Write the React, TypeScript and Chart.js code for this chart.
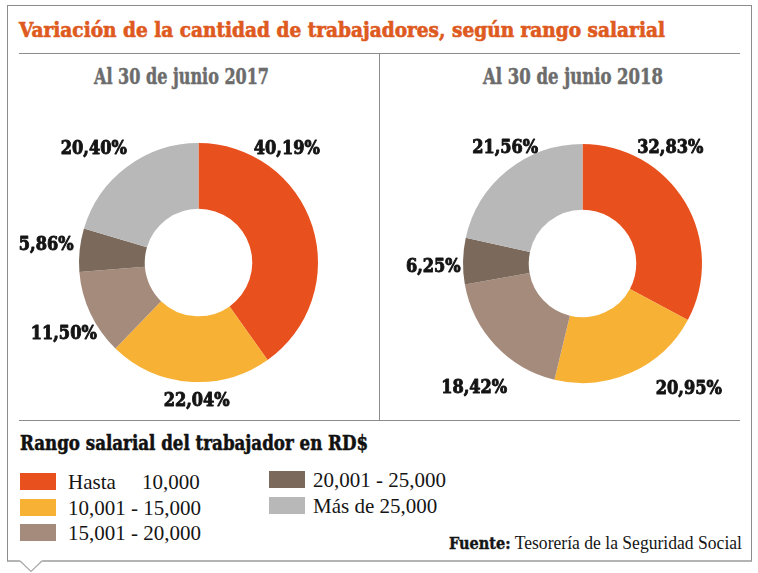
import React, { useEffect, useLayoutEffect, useRef } from "react";
import { Chart, registerables } from "chart.js";

Chart.register(...registerables);

// ---------- data ----------
const categories = [
  "Hasta 10,000",
  "10,001 - 15,000",
  "15,001 - 20,000",
  "20,001 - 25,000",
  "Más de 25,000",
];
const sliceColors = ["#E8511E", "#F7B134", "#A58B7C", "#7B6A5B", "#B9B8B9"];
const values2017 = [40.19, 22.04, 11.5, 5.86, 20.4];
const values2018 = [32.83, 20.95, 18.42, 6.25, 21.56];
const panelTitles = ["Al 30 de junio 2017", "Al 30 de junio 2018"];
const chartTitle = "Variación de la cantidad de trabajadores, según rango salarial";
const legendTitle = "Rango salarial del trabajador en RD$";
const sourceLabel = "Fuente:";
const sourceText = "Tesorería de la Seguridad Social";

const fmt = (v: number) => v.toFixed(2).replace(".", ",") + "%";

const SERIF = "'Liberation Serif', 'Times New Roman', serif";
const HEAVY = "'DejaVu Serif Condensed', 'DejaVu Serif', serif";

type Place = { angle: number; dist: number };

function makeLabelPlugin(places: Place[]) {
  return {
    id: "outerLabels",
    afterDatasetsDraw(chart: any) {
      const meta = chart.getDatasetMeta(0);
      const ctx = chart.ctx;
      ctx.save();
      ctx.font = `bold 19px ${HEAVY}`;
      try {
        (ctx as any).fontStretch = "condensed";
      } catch (e) {}
      ctx.fillStyle = "#141414";
      ctx.strokeStyle = "#141414";
      ctx.lineWidth = 0.9;
      ctx.lineJoin = "round";
      ctx.textAlign = "center";
      ctx.textBaseline = "alphabetic";
      const sx = 66 / ctx.measureText("40,19%").width;
      meta.data.forEach((arc: any, i: number) => {
        const p = arc.getProps(["x", "y", "outerRadius", "startAngle", "endAngle"], true);
        const place = places[i];
        const ang = place ? (place.angle * Math.PI) / 180 : (p.startAngle + p.endAngle) / 2;
        const dist = p.outerRadius * (place ? place.dist : 1.25);
        const v = chart.data.datasets[0].data[i];
        ctx.save();
        ctx.translate(p.x + Math.cos(ang) * dist, p.y + Math.sin(ang) * dist + 7);
        ctx.scale(sx, 1);
        ctx.fillText(fmt(v), 0, 0);
        ctx.strokeText(fmt(v), 0, 0);
        ctx.restore();
      });
      ctx.restore();
    },
  };
}

type DonutProps = {
  values: number[];
  left: number;
  top: number;
  width: number;
  height: number;
  padding: { left: number; top: number; right: number; bottom: number };
  places: Place[];
};

function Donut({ values, left, top, width, height, padding, places }: DonutProps) {
  const ref = useRef<HTMLCanvasElement | null>(null);
  useEffect(() => {
    if (!ref.current) return;
    const chart = new Chart(ref.current, {
      type: "doughnut",
      data: {
        labels: categories,
        datasets: [
          {
            data: values,
            backgroundColor: sliceColors,
            borderWidth: 0,
            hoverOffset: 0,
          },
        ],
      },
      options: {
        responsive: false,
        animation: false,
        devicePixelRatio: 1,
        cutout: "45%",
        layout: { padding },
        plugins: {
          legend: { display: false },
          tooltip: { enabled: false },
          title: { display: false },
        },
        events: [],
      },
      plugins: [makeLabelPlugin(places)],
    });
    return () => chart.destroy();
  }, []);
  return (
    <canvas
      ref={ref}
      width={width}
      height={height}
      style={{ position: "absolute", left, top, width, height }}
    />
  );
}

// text stretched horizontally to a target width
function FitText({
  left,
  top,
  width,
  style,
  children,
}: {
  left: number;
  top: number;
  width: number;
  style: React.CSSProperties;
  children: React.ReactNode;
}) {
  const ref = useRef<HTMLDivElement | null>(null);
  useLayoutEffect(() => {
    const fit = () => {
      const el = ref.current;
      if (!el) return;
      el.style.transform = "none";
      const w = el.getBoundingClientRect().width;
      if (w > 0) el.style.transform = `scaleX(${width / w})`;
    };
    fit();
    if ((document as any).fonts && (document as any).fonts.ready) {
      (document as any).fonts.ready.then(fit);
    }
  });
  return (
    <div
      ref={ref}
      style={{
        position: "absolute",
        left,
        top,
        whiteSpace: "pre",
        lineHeight: 1,
        transformOrigin: "left top",
        ...style,
      }}
    >
      {children}
    </div>
  );
}

const places2017: Place[] = [
  { angle: -52.6, dist: 1.216 },
  { angle: 90.75, dist: 1.146 },
  { angle: 152.7, dist: 1.269 },
  { angle: 187.3, dist: 1.285 },
  { angle: -132.2, dist: 1.304 },
];
const places2018: Place[] = [
  { angle: -53.3, dist: 1.229 },
  { angle: 49.2, dist: 1.361 },
  { angle: 131.4, dist: 1.37 },
  { angle: 179.3, dist: 1.249 },
  { angle: -123.3, dist: 1.179 },
];

export default function App() {
  const lineColor = "#8c8c8c";
  const legendCols = [
    { box: 20, text: 68, top: 473, items: [0, 1, 2] },
    { box: 269, text: 313, top: 471, items: [3, 4] },
  ];
  const heavy: React.CSSProperties = {
    fontFamily: HEAVY,
    fontWeight: "bold",
    fontStretch: "condensed",
  };
  return (
    <div
      style={{
        position: "absolute",
        left: 0,
        top: 0,
        width: 758,
        height: 573,
        background: "#ffffff",
        fontFamily: SERIF,
        overflow: "hidden",
      }}
    >
      {/* frame */}
      <div
        style={{
          position: "absolute",
          left: 7,
          top: 5,
          width: 745,
          height: 557,
          boxSizing: "border-box",
          borderLeft: `1px solid ${lineColor}`,
          borderTop: `1px solid ${lineColor}`,
          borderRight: `1px solid ${lineColor}`,
          borderBottom: "2px solid #b4b4b4",
        }}
      />
      <svg
        style={{ position: "absolute", left: 0, top: 555 }}
        width={60}
        height={18}
        viewBox="0 555 60 18"
      >
        <polygon points="19.5,559 31,571.5 42.5,559" fill="#ffffff" />
        <rect x={19.5} y={559} width={23} height={2.5} fill="#ffffff" />
        <polyline points="19.5,560.5 31,571.5 42.5,560.5" fill="none" stroke="#a8a8a8" strokeWidth={1.2} />
      </svg>

      {/* title */}
      <FitText
        left={19}
        top={20}
        width={646}
        style={{ ...heavy, fontSize: 20.5, color: "#DE5A20", WebkitTextStroke: "0.6px #DE5A20" }}
      >
        {chartTitle}
      </FitText>

      {/* separators */}
      <div style={{ position: "absolute", left: 19, top: 53, width: 721, height: 1, background: lineColor }} />
      <div style={{ position: "absolute", left: 379, top: 53, width: 1, height: 368, background: lineColor }} />
      <div style={{ position: "absolute", left: 19, top: 420, width: 721, height: 1, background: lineColor }} />

      {/* panel titles */}
      <FitText
        left={94}
        top={64.5}
        width={175}
        style={{ ...heavy, fontSize: 22, color: "#6c6c6c", WebkitTextStroke: "0.5px #6c6c6c" }}
      >
        {panelTitles[0]}
      </FitText>
      <FitText
        left={483}
        top={64.5}
        width={180}
        style={{ ...heavy, fontSize: 22, color: "#6c6c6c", WebkitTextStroke: "0.5px #6c6c6c" }}
      >
        {panelTitles[1]}
      </FitText>

      {/* charts */}
      <Donut
        values={values2017}
        left={9}
        top={90}
        width={369}
        height={328}
        padding={{ left: 70, top: 53, right: 60, bottom: 36 }}
        places={places2017}
      />
      <Donut
        values={values2018}
        left={381}
        top={90}
        width={369}
        height={328}
        padding={{ left: 82, top: 54, right: 48, bottom: 35 }}
        places={places2018}
      />

      {/* legend */}
      <FitText
        left={20}
        top={433}
        width={348}
        style={{ ...heavy, fontSize: 20.5, color: "#111", WebkitTextStroke: "0.5px #111" }}
      >
        {legendTitle}
      </FitText>
      {legendCols.map((col) =>
        col.items.map((idx, r) => {
          const top = col.top + r * 25.5;
          const label = categories[idx];
          const sp = label.indexOf(" ");
          const isHasta = label.startsWith("Hasta");
          return (
            <React.Fragment key={label}>
              <div
                style={{
                  position: "absolute",
                  left: col.box,
                  top,
                  width: 36,
                  height: 17,
                  background: sliceColors[idx],
                }}
              />
              <div
                style={{
                  position: "absolute",
                  left: col.text,
                  top: top - 0.6,
                  fontSize: 21,
                  lineHeight: 1,
                  color: "#151515",
                  whiteSpace: "pre",
                }}
              >
                {isHasta ? (
                  <>
                    <span style={{ display: "inline-block", width: 74 }}>{label.slice(0, sp)}</span>
                    {label.slice(sp + 1)}
                  </>
                ) : (
                  label
                )}
              </div>
            </React.Fragment>
          );
        })
      )}

      {/* source */}
      <FitText left={449} top={534} width={293} style={{ fontSize: 18, color: "#151515" }}>
        <span style={{ ...heavy, fontSize: 16.5, WebkitTextStroke: "0.4px #151515" }}>{sourceLabel}</span>{" "}
        {sourceText}
      </FitText>
    </div>
  );
}
